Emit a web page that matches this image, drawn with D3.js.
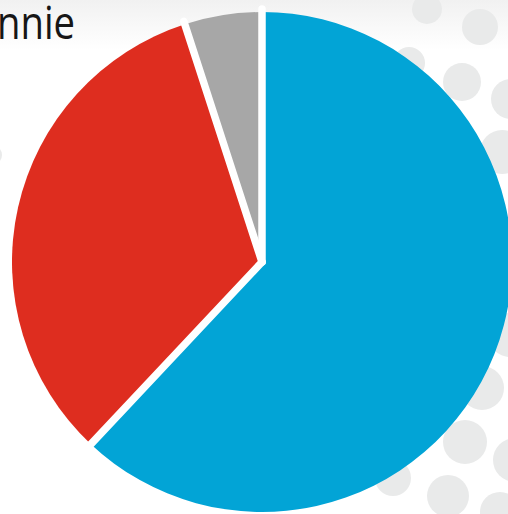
<!DOCTYPE html>
<html>
<head>
<meta charset="utf-8">
<script src="https://cdn.jsdelivr.net/npm/d3@7"></script>
<style>
  body { margin: 0; background: #fff; overflow: hidden; }
</style>
</head>
<body>
<div id="chart"></div>
<script>
// data
var categories = ["A", "B", "C"];
var values = [62, 33, 5];
var colors = ["#02a4d6", "#de2d1f", "#a7a7a7"];

// decorative background dots [x, y, r]
var dots = [
  [427, 9, 15], [480, 27, 18], [409, 63, 16], [462, 82, 19], [511, 99, 20],
  [502, 152, 22], [510, 335, 22], [482, 388, 22], [465, 442, 22], [515, 460, 22],
  [393, 478, 18], [448, 496, 21], [500, 512, 20], [262, 135, 14], [-8, 155, 10]
];

var width = 508, height = 514;
var cx = 262, cy = 262, radius = 250;

var svg = d3.select("#chart")
  .append("svg")
  .attr("width", width)
  .attr("height", height);

var defs = svg.append("defs");
var grad = defs.append("linearGradient")
  .attr("id", "topfade")
  .attr("x1", 0).attr("y1", 0).attr("x2", 0).attr("y2", 1);
grad.append("stop").attr("offset", "0%").attr("stop-color", "#f1f1f1");
grad.append("stop").attr("offset", "100%").attr("stop-color", "#ffffff");

svg.append("rect")
  .attr("width", width)
  .attr("height", 50)
  .attr("fill", "url(#topfade)");

svg.selectAll("circle.dot")
  .data(dots)
  .enter()
  .append("circle")
    .attr("class", "dot")
    .attr("cx", function(d) { return d[0]; })
    .attr("cy", function(d) { return d[1]; })
    .attr("r", function(d) { return d[2]; })
    .attr("fill", "#e9eaea");

// title fragment, cut by the left edge like the original
svg.append("text")
  .attr("x", -3)
  .attr("y", 39)
  .attr("font-family", "Open Sans")
  .attr("font-weight", 500)
  .attr("font-size", "45px")
  .attr("textLength", 78)
  .attr("lengthAdjust", "spacingAndGlyphs")
  .attr("fill", "#161616")
  .text("nnie");

var pie = d3.pie().sort(null).value(function(d) { return d; });
var arcs = pie(values);

var arc = d3.arc().innerRadius(0).outerRadius(radius);

var g = svg.append("g")
  .attr("transform", "translate(" + cx + "," + cy + ")");

g.selectAll("path")
  .data(arcs)
  .enter()
  .append("path")
    .attr("d", arc)
    .attr("fill", function(d, i) { return colors[i]; });

// white gaps between slices
g.selectAll("line.gap")
  .data(arcs)
  .enter()
  .append("line")
    .attr("class", "gap")
    .attr("x1", 0)
    .attr("y1", 0)
    .attr("x2", function(d) { return Math.sin(d.startAngle) * (radius + 3); })
    .attr("y2", function(d) { return -Math.cos(d.startAngle) * (radius + 3); })
    .attr("stroke", "#fff")
    .attr("stroke-width", 7.5)
    .attr("stroke-linecap", "round");
</script>
</body>
</html>
